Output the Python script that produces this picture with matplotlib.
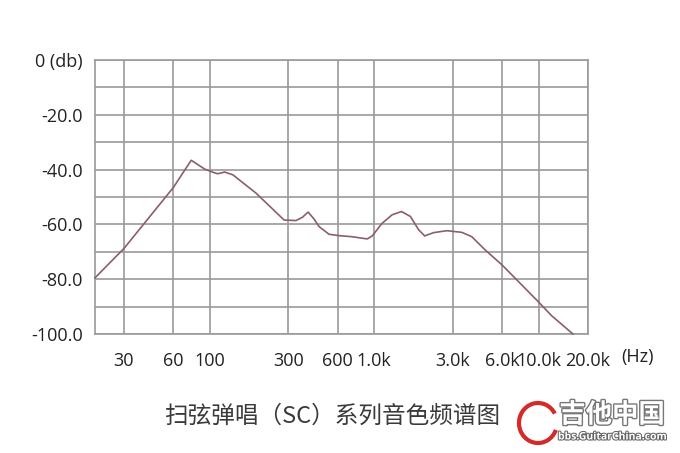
import matplotlib
matplotlib.use("Agg")
import matplotlib.pyplot as plt
import matplotlib.patheffects as pe
from matplotlib.patches import Arc

# ---- data ----
freq_hz = [20, 30, 60, 77, 93, 107, 112, 123, 138, 191, 283, 334, 366, 396,
           430, 462, 531, 611, 735, 906, 973, 1117, 1285, 1465, 1661, 1866, 2029,
           2300, 2770, 3414, 3928, 4730, 6000, 10000, 12000, 16200]
level_db = [-79.5, -68.8, -46.5, -36.6, -39.8, -41.2, -41.5, -40.9, -41.9,
            -48.6, -58.4, -58.6, -57.4, -55.5, -58.0, -60.8, -63.6, -64.1, -64.5, -65.3,
            -64.2, -59.6, -56.5, -55.3, -57.1, -62.0, -64.2, -63.0, -62.3, -62.9,
            -64.5, -69.3, -74.8, -88.3, -93.3, -100.0]

x_ticks = [30, 60, 100, 300, 600, 1000, 3000, 6000, 10000, 20000]
x_tick_labels = ["30", "60", "100", "300", "600", "1.0k", "3.0k", "6.0k", "10.0k", "20.0k"]
y_ticks = [0, -20, -40, -60, -80, -100]
y_tick_labels = ["0 (db)", "-20.0", "-40.0", "-60.0", "-80.0", "-100.0"]
y_grid = [0, -10, -20, -30, -40, -50, -60, -70, -80, -90, -100]

title = "扫弦弹唱（SC）系列音色频谱图"

plt.rcParams['font.family'] = ['Open Sans', 'Noto Sans CJK SC', 'DejaVu Sans']

fig = plt.figure(figsize=(6.8, 4.53), dpi=100)
fig.patch.set_facecolor("white")
ax = fig.add_axes([95/680, 1-334/453, (588-95)/680, (334-60)/453])

grid_c = "#9a9a9a"
ax.set_xscale("log")
ax.set_xlim(20, 20000)
ax.set_ylim(-100, 0)

for f in x_ticks:
    ax.axvline(f, color=grid_c, lw=1.2, zorder=1)
for g in y_grid:
    ax.axhline(g, color=grid_c, lw=1.2, zorder=1)
for s in ax.spines.values():
    s.set_color(grid_c)
    s.set_linewidth(1.2)

ax.plot(freq_hz, level_db, color="#8a5e6a", lw=1.2, zorder=3, clip_on=False,
        solid_joinstyle="round")

ax.set_xticks(x_ticks)
ax.set_xticklabels(x_tick_labels)
ax.xaxis.set_minor_locator(matplotlib.ticker.NullLocator())
ax.set_yticks(y_ticks)
ax.set_yticklabels(y_tick_labels)
ax.tick_params(axis="both", length=0, labelsize=13, colors="#222222")
ax.tick_params(axis="x", pad=13)
ax.tick_params(axis="y", pad=9)

fig.text(637/680, 1-357/453, "(Hz)", ha="center", va="center", fontsize=13,
         color="#222222")

fig.text(332/680, 1-416/453, title, ha="center", va="center", fontsize=17,
         color="#3a3a3a", family=['Noto Sans CJK SC', 'DejaVu Sans'])

# watermark
arc = Arc((538/680, 1-423/453), 38/680, 40/453, theta1=40, theta2=330,
          transform=fig.transFigure, color="#d42a2a", lw=3)
fig.add_artist(arc)
fig.text(612/680, 1-415/453, "吉他中国", ha="center", va="center", fontsize=19,
         color="white", weight="bold", family=['Noto Sans CJK SC'],
         path_effects=[pe.withStroke(linewidth=2, foreground="#777777")])
fig.text(612/680, 1-437/453, "bbs.GuitarChina.com", ha="center", va="center",
         fontsize=7.5, color="white", weight="bold",
         path_effects=[pe.withStroke(linewidth=1.5, foreground="#666666")])

fig.savefig("out.png", dpi=100, facecolor="white")
